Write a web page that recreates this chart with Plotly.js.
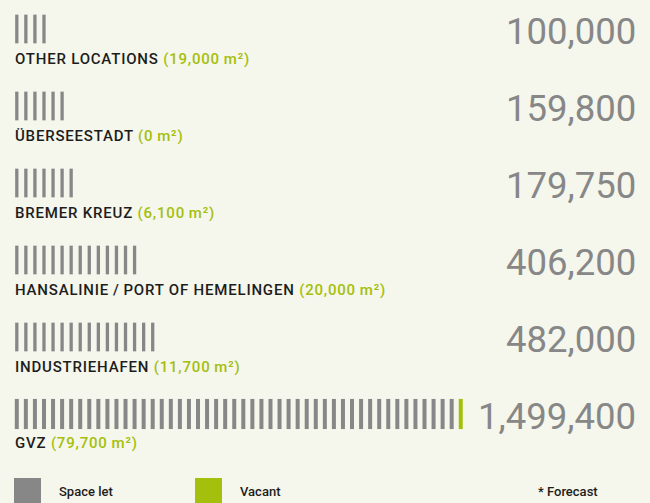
<!DOCTYPE html>
<html>
<head>
<meta charset="utf-8">
<script src="https://cdn.plot.ly/plotly-3.0.1.min.js"></script>
<style>
  html, body { margin: 0; padding: 0; background: #f5f6ec; }
  #chart { width: 650px; height: 503px; }
</style>
</head>
<body>
<div id="chart"></div>
<script>
// ---- data ----
const locations = ['OTHER LOCATIONS', 'ÜBERSEESTADT', 'BREMER KREUZ', 'HANSALINIE\u2009/\u2009PORT OF HEMELINGEN', 'INDUSTRIEHAFEN', 'GVZ'];
const totals = [100000, 159800, 179750, 406200, 482000, 1499400];
const vacantSpace = [19000, 0, 6100, 20000, 11700, 79700];
const letTicks = [4, 6, 7, 14, 16, 49];
const vacantTicks = [0, 0, 0, 0, 0, 1];
const legendLabels = ['Space let', 'Vacant'];
const footnote = '* Forecast';

// ---- style ----
const GRAY = '#878787';
const GREEN = '#a4bf0c';
const DARK = '#1d1d1b';
const BG = '#f5f6ec';

const traces = [];
locations.forEach((name, r) => {
  const xsLet = [], ysLet = [];
  for (let i = 0; i < letTicks[r]; i++) { xsLet.push(i); ysLet.push(r); }
  const xsVac = [], ysVac = [];
  for (let j = 0; j < vacantTicks[r]; j++) { xsVac.push(letTicks[r] + j); ysVac.push(r); }
  const big = r === locations.length - 1;
  traces.push({
    type: 'scatter', mode: 'markers', x: xsLet, y: ysLet, hoverinfo: 'skip', showlegend: false,
    marker: { symbol: 'line-ns', size: big ? 21.5 : 20.5, color: GRAY, line: { color: GRAY, width: big ? 4 : 3.3 } }
  });
  if (xsVac.length) {
    traces.push({
      type: 'scatter', mode: 'markers', x: xsVac, y: ysVac, hoverinfo: 'skip', showlegend: false,
      marker: { symbol: 'line-ns', size: big ? 21.5 : 20.5, color: GREEN, line: { color: GREEN, width: big ? 4 : 3.3 } }
    });
  }
});

const fmt = v => v.toLocaleString('en-US');
const annotations = [];
locations.forEach((name, r) => {
  annotations.push({
    xref: 'paper', yref: 'y', x: 13 / 650, y: r, xanchor: 'left', yanchor: 'middle', yshift: r === 5 ? -29 : -30,
    showarrow: false, align: 'left',
    text: '<span style="letter-spacing:0.8px">' + name + ' <span style="color:' + GREEN + '">(' + fmt(vacantSpace[r]) + '\u2009m²)</span></span>',
    font: { family: 'Roboto, sans-serif', size: 15, color: DARK, weight: 500 }
  });
  annotations.push({
    xref: 'paper', yref: 'y', x: 638 / 650, y: r, xanchor: 'right', yanchor: 'middle', yshift: -2,
    showarrow: false, text: fmt(totals[r]),
    font: { family: 'Roboto, sans-serif', size: 36.5, color: GRAY }
  });
});
// legend texts
const legendX = [57, 238];
legendLabels.forEach((t, k) => {
  annotations.push({
    xref: 'paper', yref: 'paper', x: legendX[k] / 650, y: 1 - 491 / 503, xanchor: 'left', yanchor: 'middle',
    showarrow: false, text: t, font: { family: 'Roboto, sans-serif', size: 13, color: DARK, weight: 500 }
  });
});
annotations.push({
  xref: 'paper', yref: 'paper', x: 536 / 650, y: 1 - 491 / 503, xanchor: 'left', yanchor: 'middle',
  showarrow: false, text: footnote, font: { family: 'Roboto, sans-serif', size: 13, color: DARK, weight: 500 }
});

const shapes = [
  { type: 'rect', xref: 'paper', yref: 'paper', x0: 14 / 650, x1: 41 / 650, y0: 1 - 478 / 503, y1: -0.05, fillcolor: GRAY, line: { width: 0 } },
  { type: 'rect', xref: 'paper', yref: 'paper', x0: 195 / 650, x1: 222 / 650, y0: 1 - 478 / 503, y1: -0.05, fillcolor: GREEN, line: { width: 0 } }
];

// pixel mapping: tick i centre at 16.8 + 9.06*i ; row r centre at 29 + 77*r
const xr = [(0 - 16.8) / 9.06, (650 - 16.8) / 9.06];
const yr = [(503 - 29) / 77, (0 - 29) / 77];

const layout = {
  width: 650, height: 503,
  margin: { l: 0, r: 0, t: 0, b: 0, pad: 0 },
  paper_bgcolor: BG, plot_bgcolor: BG,
  xaxis: { range: xr, visible: false, fixedrange: true },
  yaxis: { range: yr, visible: false, fixedrange: true },
  annotations: annotations,
  shapes: shapes,
  showlegend: false
};

Plotly.newPlot('chart', traces, layout, { displayModeBar: false, staticPlot: true });
</script>
</body>
</html>
